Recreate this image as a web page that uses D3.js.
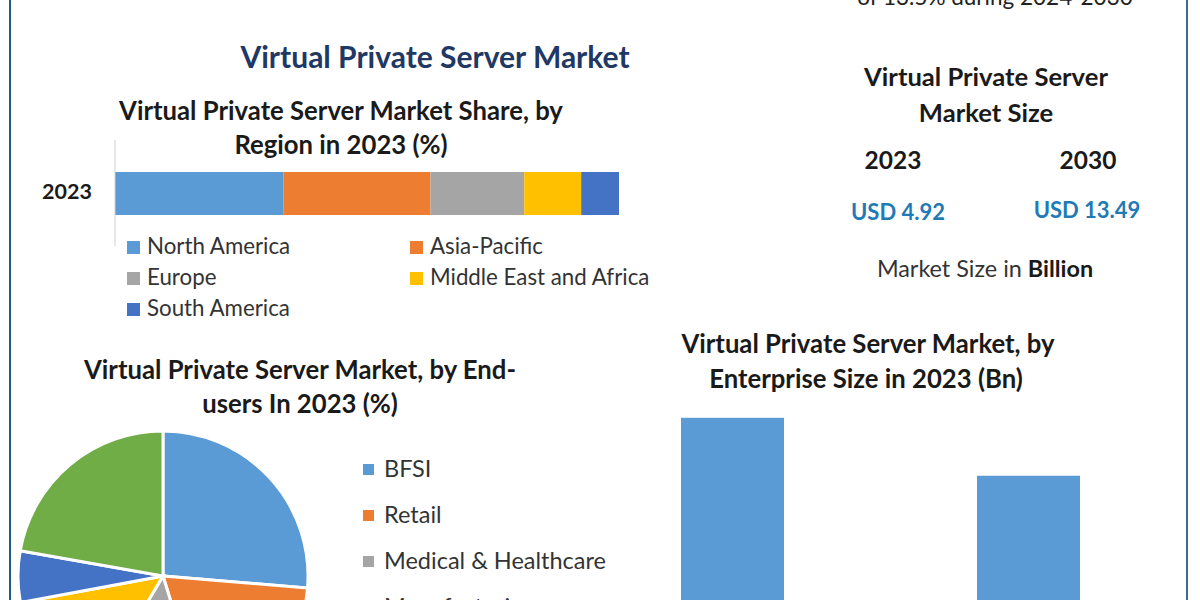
<!DOCTYPE html>
<html>
<head>
<meta charset="utf-8">
<script src="https://cdn.jsdelivr.net/npm/d3@7"></script>
<style>
    html, body { margin: 0; padding: 0; background: #fff; overflow: hidden; }
    text { font-family: Lato, "Open Sans", sans-serif; fill: #1a1a1a; }
    .title { font-weight: 700; }
    .legend { font-size: 22.3px; fill: #333; }
</style>
</head>
<body>
<svg id="chart" width="1200" height="600"></svg>
<script>
// stacked bar, region share 2023 (%)
const regions = ['North America', 'Asia-Pacific', 'Europe', 'Middle East and Africa', 'South America']
const regionShare = [33.4, 29.2, 18.6, 11.3, 7.5]

// pie, end users 2023 (%) - the bottom of the pie and legend is cut off in the picture
const endUsers = ['BFSI', 'Retail', 'Medical & Healthcare', 'Manufacturing']
const endUserShare = [26.3, 18.9, 13.3, 13.5, 5.7, 22.2]

// bars, enterprise size 2023 (Bn) - no labels visible, they run off the bottom
const enterpriseValues = [2.76, 2.15]

const marketYears = ['2023', '2030']
const marketValues = ['USD 4.92', 'USD 13.49']

const colors = ['#5b9bd5', '#ed7d31', '#a5a5a5', '#ffc000', '#4472c4', '#70ad47']

const svg = d3.select('#chart')

const centered = (txt, x, y, size, cls) => svg.append('text')
    .attr('class', cls || 'title')
    .attr('x', x).attr('y', y)
    .attr('text-anchor', 'middle')
    .style('font-size', size + 'px')
    .text(txt)

// frame
svg.append('line').attr('x1', 10).attr('x2', 10).attr('y1', 0).attr('y2', 600)
    .attr('stroke', '#1f5c85').attr('stroke-width', 2)
svg.append('line').attr('x1', 1187).attr('x2', 1187).attr('y1', 0).attr('y2', 600)
    .attr('stroke', '#44698a').attr('stroke-width', 2)

// headings
centered('of 13.5% during 2024-2030', 995, 5, 22.5, 'plain').style('fill', '#222')
centered('Virtual Private Server Market', 435, 68, 30).style('fill', '#1f3864')
centered('Virtual Private Server Market Share, by', 341, 120, 25.7)
centered('Region in 2023 (%)', 341, 154, 25.7)
centered('Virtual Private Server Market, by End-', 300, 379, 25.7)
centered('users In 2023 (%)', 300, 413, 25.7)
centered('Virtual Private Server Market, by', 868, 353, 25.7)
centered('Enterprise Size in 2023 (Bn)', 866, 388, 25.7)

// market size panel
centered('Virtual Private Server', 986, 86, 25.6)
centered('Market Size', 986, 122, 25.6)
marketYears.forEach((y, i) => {
    const x = [893, 1088][i]
    centered(y, x, 169, 24.5)
    centered(marketValues[i], x + (i ? -1 : 5), i ? 218 : 220, 22).style('fill', '#1f7ab5')
})
const sizeNote = centered('', 985, 277, 23.4, 'plain').style('fill', '#333')
sizeNote.append('tspan').text('Market Size in ')
sizeNote.append('tspan').style('font-weight', 700).style('fill', '#1a1a1a').text('Billion')

// stacked bar
const xShare = d3.scaleLinear().domain([0, d3.sum(regionShare)]).range([115, 619])
const cum = d3.cumsum(regionShare)
svg.selectAll('.seg')
    .data(regionShare)
    .enter()
    .append('rect')
    .attr('class', 'seg')
    .attr('x', (d, i) => xShare(cum[i] - d))
    .attr('width', d => xShare(d) - xShare(0))
    .attr('y', 172).attr('height', 43)
    .attr('fill', (d, i) => colors[i])
svg.append('line').attr('x1', 115).attr('x2', 115).attr('y1', 140).attr('y2', 246)
    .attr('stroke', '#d0d0d0')
svg.append('text').attr('x', 67).attr('y', 199).attr('text-anchor', 'middle')
    .style('font-size', '21.5px').style('font-weight', 700).text('2023')

// region legend, two columns
const regionPos = [[127, 247], [410, 247], [127, 278], [410, 278], [127, 309]]
const regionLegend = svg.selectAll('.reg')
    .data(regions)
    .enter()
    .append('g')
    .attr('class', 'reg')
    .attr('transform', (d, i) => `translate(${regionPos[i]})`)
regionLegend.append('rect').attr('y', -6).attr('width', 13).attr('height', 13)
    .attr('fill', (d, i) => colors[i])
regionLegend.append('text').attr('class', 'legend').attr('x', 20).attr('y', 7).text(d => d)

// pie
const pie = d3.pie().sort(null)
const arc = d3.arc().innerRadius(0).outerRadius(145)
svg.append('g')
    .attr('transform', 'translate(163,576)')
    .selectAll('path')
    .data(pie(endUserShare))
    .enter()
    .append('path')
    .attr('d', arc)
    .attr('fill', (d, i) => colors[i])
    .attr('stroke', '#fff')
    .attr('stroke-width', 3)

const yLegend = d3.scalePoint().domain(endUsers).range([469, 607])
const userLegend = svg.selectAll('.usr')
    .data(endUsers)
    .enter()
    .append('g')
    .attr('class', 'usr')
    .attr('transform', d => `translate(363,${yLegend(d)})`)
userLegend.append('rect').attr('y', -5).attr('width', 11).attr('height', 11)
    .attr('fill', (d, i) => colors[i])
userLegend.append('text').attr('class', 'legend').style('font-size', '23.5px').attr('x', 21).attr('y', 8).text(d => d)

// enterprise bars
const xBar = d3.scaleBand().domain(d3.range(enterpriseValues.length)).range([681, 1080]).paddingInner(0.652)
const yBar = d3.scaleLinear().domain([0, 3]).range([680, 395])
svg.selectAll('.bar')
    .data(enterpriseValues)
    .enter()
    .append('rect')
    .attr('class', 'bar')
    .attr('x', (d, i) => xBar(i))
    .attr('width', xBar.bandwidth())
    .attr('y', d => yBar(d))
    .attr('height', d => yBar(0) - yBar(d))
    .attr('fill', colors[0])
</script>
</body>
</html>
